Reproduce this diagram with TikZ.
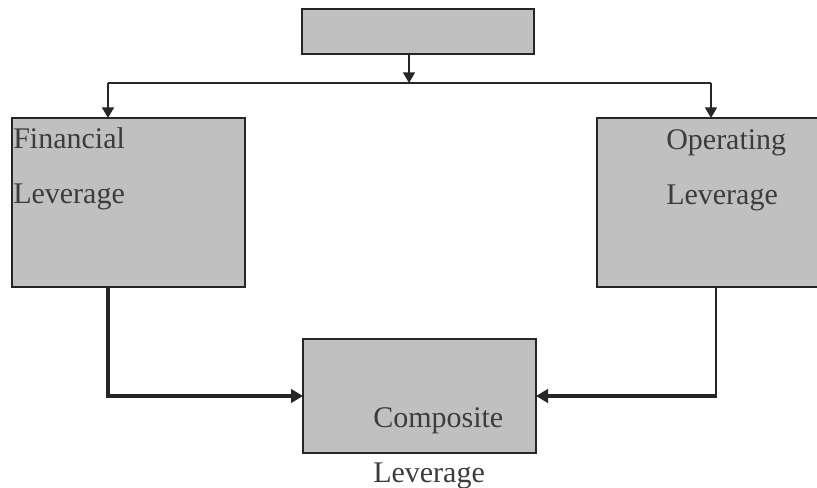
\documentclass[tikz,border=0pt]{standalone}
\usepackage{fontspec}
\setmainfont{Liberation Serif}
\usetikzlibrary{positioning}
\usetikzlibrary{arrows.meta}
\definecolor{boxgray}{HTML}{C0C0C0}
\definecolor{ink}{HTML}{262626}
\tikzset{
    box/.style = {rectangle, draw=ink, line width=1.5pt, fill=boxgray, inner sep=0pt, outer sep=0pt},
    boxb/.style = {box, line width=2.2pt},
    lbl/.style = {inner sep=0pt, align=left, text=ink!90, font=\fontsize{22.5}{41.25}\selectfont},
    edgen/.style = {draw=ink, line width=1.1pt},
    edgea/.style = {edgen, -{Triangle[width=9pt,length=8pt]}},
    edgek/.style = {draw=ink, line width=2.4pt, -{Triangle[width=10pt,length=9pt]}},
}

\begin{document}
\begin{tikzpicture}[x=0.75pt,y=-0.75pt]
\useasboundingbox (0,0) rectangle (817,488);
\clip (0,0) rectangle (817,488);
\fill[white] (0,0) rectangle (817,488);
\node[box, minimum width=174pt, minimum height=33.75pt] at (418,31.5) (top) {};
\node[boxb, minimum width=174.75pt, minimum height=126.75pt] at (128.5,202.5) (fin) {};
\node[boxb, minimum width=166.5pt, minimum height=126.75pt] at (708,202.5) (oper) {};
\node[box, minimum width=174.75pt, minimum height=85.5pt] at (419.5,396) (comp) {};
%
\node[lbl, anchor=base west] at (13,204) (finl) {Financial\\Leverage};
\node[lbl, anchor=base west] at (666,205) (operl) {Operating\\Leverage};
\node[lbl, anchor=base west] at (373,482) (compl) {Composite\\Leverage};
%
\coordinate (bl) at (108,83);
\coordinate (bm) at (409,83);
\coordinate (br) at (711,83);
\coordinate (cl) at (108,396);
\coordinate (cr) at (716,396);
%
\draw[edgen] (bl) -- (br);
\draw[edgea] (bm |- top.south) -- (bm);
\draw[edgea] (bl) -- (bl |- fin.north);
\draw[edgea] (br) -- (br |- oper.north);
\draw[edgek] (cl |- fin.south) -- (cl) -- (comp.west);
\draw[edgen, line width=1.5pt] (cr |- oper.south) -- (cr);
\draw[edgek] ([xshift=0.9pt]cr) -- (comp.east);
\end{tikzpicture}
\end{document}
